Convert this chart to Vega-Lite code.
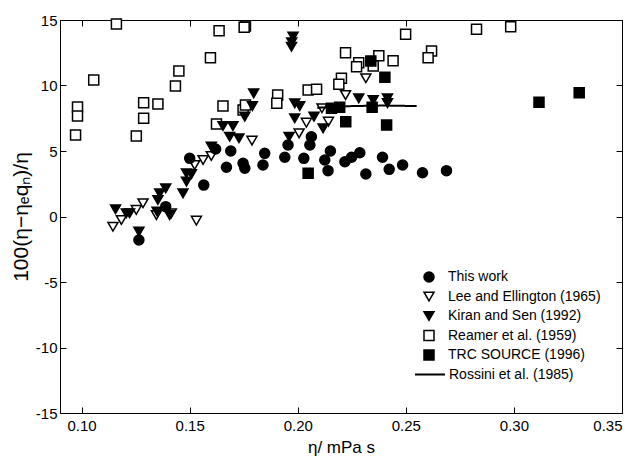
{
  "$schema": "https://vega.github.io/schema/vega-lite/v6.json",
  "width": 562,
  "height": 393,
  "autosize": "none",
  "padding": {"left": 60, "top": 20, "right": 18, "bottom": 52},
  "background": "white",
  "config": {
    "view": {"stroke": "black", "strokeWidth": 1},
    "font": "Liberation Sans",
    "axis": {
      "grid": false,
      "domainColor": "black",
      "tickColor": "black",
      "labelColor": "black",
      "titleColor": "black",
      "labelFont": "Liberation Sans",
      "titleFont": "Liberation Sans",
      "labelFontSize": 15,
      "titleFontSize": 17,
      "titleFontWeight": "normal",
      "tickSize": -6
    }
  },
  "datasets": {
    "pts": [
      {"s": "Reamer et al. (1959)", "x": 0.1161, "y": 14.69},
      {"s": "Reamer et al. (1959)", "x": 0.1636, "y": 14.18},
      {"s": "Reamer et al. (1959)", "x": 0.1758, "y": 14.54},
      {"s": "Reamer et al. (1959)", "x": 0.1752, "y": 14.45},
      {"s": "Reamer et al. (1959)", "x": 0.1596, "y": 12.12},
      {"s": "Reamer et al. (1959)", "x": 0.1450, "y": 11.11},
      {"s": "Reamer et al. (1959)", "x": 0.1434, "y": 9.96},
      {"s": "Reamer et al. (1959)", "x": 0.1056, "y": 10.42},
      {"s": "Reamer et al. (1959)", "x": 0.0981, "y": 8.36},
      {"s": "Reamer et al. (1959)", "x": 0.0981, "y": 7.67},
      {"s": "Reamer et al. (1959)", "x": 0.0972, "y": 6.22},
      {"s": "Reamer et al. (1959)", "x": 0.1287, "y": 8.69},
      {"s": "Reamer et al. (1959)", "x": 0.1353, "y": 8.59},
      {"s": "Reamer et al. (1959)", "x": 0.1287, "y": 7.50},
      {"s": "Reamer et al. (1959)", "x": 0.1253, "y": 6.14},
      {"s": "Reamer et al. (1959)", "x": 0.1654, "y": 8.43},
      {"s": "Reamer et al. (1959)", "x": 0.1747, "y": 8.13},
      {"s": "Reamer et al. (1959)", "x": 0.1758, "y": 8.51},
      {"s": "Reamer et al. (1959)", "x": 0.1624, "y": 7.06},
      {"s": "Reamer et al. (1959)", "x": 0.1907, "y": 9.27},
      {"s": "Reamer et al. (1959)", "x": 0.1903, "y": 8.64},
      {"s": "Reamer et al. (1959)", "x": 0.2499, "y": 13.91},
      {"s": "Reamer et al. (1959)", "x": 0.2221, "y": 12.50},
      {"s": "Reamer et al. (1959)", "x": 0.2282, "y": 11.74},
      {"s": "Reamer et al. (1959)", "x": 0.2272, "y": 11.44},
      {"s": "Reamer et al. (1959)", "x": 0.2375, "y": 12.27},
      {"s": "Reamer et al. (1959)", "x": 0.2441, "y": 11.89},
      {"s": "Reamer et al. (1959)", "x": 0.2349, "y": 11.49},
      {"s": "Reamer et al. (1959)", "x": 0.2619, "y": 12.63},
      {"s": "Reamer et al. (1959)", "x": 0.2603, "y": 12.12},
      {"s": "Reamer et al. (1959)", "x": 0.2202, "y": 10.55},
      {"s": "Reamer et al. (1959)", "x": 0.2190, "y": 10.09},
      {"s": "Reamer et al. (1959)", "x": 0.2048, "y": 9.66},
      {"s": "Reamer et al. (1959)", "x": 0.2087, "y": 9.71},
      {"s": "Reamer et al. (1959)", "x": 0.2827, "y": 14.29},
      {"s": "Reamer et al. (1959)", "x": 0.2985, "y": 14.49},
      {"s": "Lee and Ellington (1965)", "x": 0.1145, "y": -0.78},
      {"s": "Lee and Ellington (1965)", "x": 0.1184, "y": -0.27},
      {"s": "Lee and Ellington (1965)", "x": 0.1253, "y": 0.50},
      {"s": "Lee and Ellington (1965)", "x": 0.1284, "y": 1.01},
      {"s": "Lee and Ellington (1965)", "x": 0.1346, "y": 0.11},
      {"s": "Lee and Ellington (1965)", "x": 0.1415, "y": 0.24},
      {"s": "Lee and Ellington (1965)", "x": 0.1531, "y": -0.32},
      {"s": "Lee and Ellington (1965)", "x": 0.1523, "y": 3.93},
      {"s": "Lee and Ellington (1965)", "x": 0.1562, "y": 4.31},
      {"s": "Lee and Ellington (1965)", "x": 0.1600, "y": 4.62},
      {"s": "Lee and Ellington (1965)", "x": 0.1788, "y": 5.79},
      {"s": "Lee and Ellington (1965)", "x": 0.2315, "y": 10.55},
      {"s": "Lee and Ellington (1965)", "x": 0.2221, "y": 9.27},
      {"s": "Lee and Ellington (1965)", "x": 0.2112, "y": 8.26},
      {"s": "Lee and Ellington (1965)", "x": 0.2142, "y": 7.24},
      {"s": "Lee and Ellington (1965)", "x": 0.2040, "y": 7.16},
      {"s": "Lee and Ellington (1965)", "x": 0.2006, "y": 6.35},
      {"s": "Kiran and Sen (1992)", "x": 0.1978, "y": 13.73},
      {"s": "Kiran and Sen (1992)", "x": 0.1972, "y": 13.30},
      {"s": "Kiran and Sen (1992)", "x": 0.1971, "y": 12.96},
      {"s": "Kiran and Sen (1992)", "x": 0.1796, "y": 9.40},
      {"s": "Kiran and Sen (1992)", "x": 0.1790, "y": 8.43},
      {"s": "Kiran and Sen (1992)", "x": 0.1755, "y": 7.62},
      {"s": "Kiran and Sen (1992)", "x": 0.1654, "y": 6.91},
      {"s": "Kiran and Sen (1992)", "x": 0.1700, "y": 6.91},
      {"s": "Kiran and Sen (1992)", "x": 0.1685, "y": 6.09},
      {"s": "Kiran and Sen (1992)", "x": 0.1728, "y": 5.97},
      {"s": "Kiran and Sen (1992)", "x": 0.1600, "y": 5.33},
      {"s": "Kiran and Sen (1992)", "x": 0.2282, "y": 9.02},
      {"s": "Kiran and Sen (1992)", "x": 0.2349, "y": 8.89},
      {"s": "Kiran and Sen (1992)", "x": 0.2415, "y": 9.02},
      {"s": "Kiran and Sen (1992)", "x": 0.2415, "y": 8.66},
      {"s": "Kiran and Sen (1992)", "x": 0.1986, "y": 8.64},
      {"s": "Kiran and Sen (1992)", "x": 0.2009, "y": 8.43},
      {"s": "Kiran and Sen (1992)", "x": 0.1986, "y": 7.50},
      {"s": "Kiran and Sen (1992)", "x": 0.2075, "y": 7.62},
      {"s": "Kiran and Sen (1992)", "x": 0.2117, "y": 6.73},
      {"s": "Kiran and Sen (1992)", "x": 0.1960, "y": 6.09},
      {"s": "Kiran and Sen (1992)", "x": 0.1157, "y": 0.55},
      {"s": "Kiran and Sen (1992)", "x": 0.1207, "y": 0.25},
      {"s": "Kiran and Sen (1992)", "x": 0.1222, "y": 0.25},
      {"s": "Kiran and Sen (1992)", "x": 0.1361, "y": 1.77},
      {"s": "Kiran and Sen (1992)", "x": 0.1353, "y": 1.26},
      {"s": "Kiran and Sen (1992)", "x": 0.1389, "y": 2.15},
      {"s": "Kiran and Sen (1992)", "x": 0.1349, "y": 0.37},
      {"s": "Kiran and Sen (1992)", "x": 0.1407, "y": 0.11},
      {"s": "Kiran and Sen (1992)", "x": 0.1469, "y": 1.77},
      {"s": "Kiran and Sen (1992)", "x": 0.1485, "y": 3.30},
      {"s": "Kiran and Sen (1992)", "x": 0.1485, "y": 2.66},
      {"s": "Kiran and Sen (1992)", "x": 0.1508, "y": 3.24},
      {"s": "Kiran and Sen (1992)", "x": 0.1265, "y": -1.16},
      {"s": "TRC SOURCE (1996)", "x": 0.3116, "y": 8.72},
      {"s": "TRC SOURCE (1996)", "x": 0.3302, "y": 9.45},
      {"s": "TRC SOURCE (1996)", "x": 0.2338, "y": 11.87},
      {"s": "TRC SOURCE (1996)", "x": 0.2403, "y": 10.63},
      {"s": "TRC SOURCE (1996)", "x": 0.2156, "y": 8.26},
      {"s": "TRC SOURCE (1996)", "x": 0.2194, "y": 8.34},
      {"s": "TRC SOURCE (1996)", "x": 0.2344, "y": 8.34},
      {"s": "TRC SOURCE (1996)", "x": 0.2222, "y": 7.24},
      {"s": "TRC SOURCE (1996)", "x": 0.2411, "y": 6.98},
      {"s": "TRC SOURCE (1996)", "x": 0.2048, "y": 3.30},
      {"s": "This work", "x": 0.1265, "y": -1.79},
      {"s": "This work", "x": 0.1389, "y": 0.75},
      {"s": "This work", "x": 0.1500, "y": 4.44},
      {"s": "This work", "x": 0.1565, "y": 2.40},
      {"s": "This work", "x": 0.1670, "y": 3.76},
      {"s": "This work", "x": 0.1747, "y": 4.06},
      {"s": "This work", "x": 0.1755, "y": 3.68},
      {"s": "This work", "x": 0.1839, "y": 3.93},
      {"s": "This work", "x": 0.1847, "y": 4.82},
      {"s": "This work", "x": 0.1940, "y": 4.52},
      {"s": "This work", "x": 0.2028, "y": 4.44},
      {"s": "This work", "x": 0.2125, "y": 4.31},
      {"s": "This work", "x": 0.2151, "y": 5.00},
      {"s": "This work", "x": 0.2140, "y": 3.50},
      {"s": "This work", "x": 0.2218, "y": 4.18},
      {"s": "This work", "x": 0.2249, "y": 4.52},
      {"s": "This work", "x": 0.2287, "y": 4.87},
      {"s": "This work", "x": 0.2392, "y": 4.52},
      {"s": "This work", "x": 0.2315, "y": 3.24},
      {"s": "This work", "x": 0.2423, "y": 3.60},
      {"s": "This work", "x": 0.2485, "y": 3.93},
      {"s": "This work", "x": 0.2577, "y": 3.34},
      {"s": "This work", "x": 0.2688, "y": 3.50},
      {"s": "This work", "x": 0.2063, "y": 6.09},
      {"s": "This work", "x": 0.2056, "y": 5.46},
      {"s": "This work", "x": 0.1955, "y": 5.46},
      {"s": "This work", "x": 0.1620, "y": 5.15},
      {"s": "This work", "x": 0.1690, "y": 5.00}
    ],
    "line": [
      {"r": "Rossini et al. (1985)", "x": 0.2090, "y": 8.30},
      {"r": "Rossini et al. (1985)", "x": 0.2250, "y": 8.43},
      {"r": "Rossini et al. (1985)", "x": 0.2400, "y": 8.47},
      {"r": "Rossini et al. (1985)", "x": 0.2550, "y": 8.43}
    ]
  },
  "layer": [
    {
      "mark": {"type": "rule", "color": "black", "strokeWidth": 1},
      "encoding": {
        "y": {"datum": 0, "type": "quantitative", "scale": {"domain": [-15, 15], "nice": false, "zero": false}, "axis": null}
      }
    },
    {
      "data": {"name": "pts"},
      "mark": {"type": "point", "filled": true, "opacity": 1, "size": 100, "strokeWidth": 1.5},
      "encoding": {
        "x": {
          "field": "x", "type": "quantitative",
          "scale": {"domain": [0.09, 0.35], "nice": false, "zero": false},
          "axis": {"orient": "bottom", "values": [0.10, 0.15, 0.20, 0.25, 0.30, 0.35], "format": ".2f", "labelPadding": 11, "title": "η/ mPa s", "titlePadding": 6}
        },
        "y": {
          "field": "y", "type": "quantitative",
          "scale": {"domain": [-15, 15], "nice": false, "zero": false},
          "axis": {"orient": "left", "values": [-15, -10, -5, 0, 5, 10, 15], "labelPadding": 9, "labelExpr": "datum.value < 0 ? '-' + abs(datum.value) : '' + datum.value", "title": "100(η−ηₑqₙ)/η", "titleFontSize": 21, "titlePadding": 4}
        },
        "shape": {
          "field": "s", "type": "nominal",
          "scale": {
            "domain": ["This work", "Lee and Ellington (1965)", "Kiran and Sen (1992)", "Reamer et al. (1959)", "TRC SOURCE (1996)"],
            "range": ["circle", "triangle-down", "triangle-down", "square", "square"]
          },
          "legend": {
            "title": null, "orient": "none", "legendX": 362, "legendY": 250,
            "labelFontSize": 14, "labelFont": "Liberation Sans", "labelColor": "black",
            "labelOffset": 12, "rowPadding": 3.5, "symbolSize": 100, "symbolStrokeWidth": 1.5, "padding": 0
          }
        },
        "fill": {
          "field": "s", "type": "nominal",
          "scale": {
            "domain": ["This work", "Lee and Ellington (1965)", "Kiran and Sen (1992)", "Reamer et al. (1959)", "TRC SOURCE (1996)"],
            "range": ["black", "white", "black", "white", "black"]
          }
        },
        "stroke": {
          "field": "s", "type": "nominal",
          "scale": {
            "domain": ["This work", "Lee and Ellington (1965)", "Kiran and Sen (1992)", "Reamer et al. (1959)", "TRC SOURCE (1996)"],
            "range": ["black", "black", "black", "black", "black"]
          }
        }
      }
    },
    {
      "data": {"name": "line"},
      "mark": {"type": "line", "strokeWidth": 2, "color": "black"},
      "encoding": {
        "x": {"field": "x", "type": "quantitative", "axis": {"orient": "top", "values": [0.10, 0.15, 0.20, 0.25, 0.30, 0.35], "labels": false, "title": null}},
        "y": {"field": "y", "type": "quantitative", "axis": {"orient": "right", "values": [-15, -10, -5, 0, 5, 10, 15], "labels": false, "title": null}},
        "strokeDash": {
          "field": "r", "type": "nominal",
          "scale": {"range": [[1, 0]]},
          "legend": {
            "title": null, "orient": "none", "legendX": 354, "legendY": 338.5,
            "labelFontSize": 14, "labelFont": "Liberation Sans", "labelColor": "black",
            "labelOffset": 3, "symbolType": "stroke", "symbolSize": 900, "symbolStrokeWidth": 2,
            "symbolStrokeColor": "black", "padding": 0
          }
        }
      }
    }
  ],
  "resolve": {"axis": {"x": "independent", "y": "independent"}}
}
